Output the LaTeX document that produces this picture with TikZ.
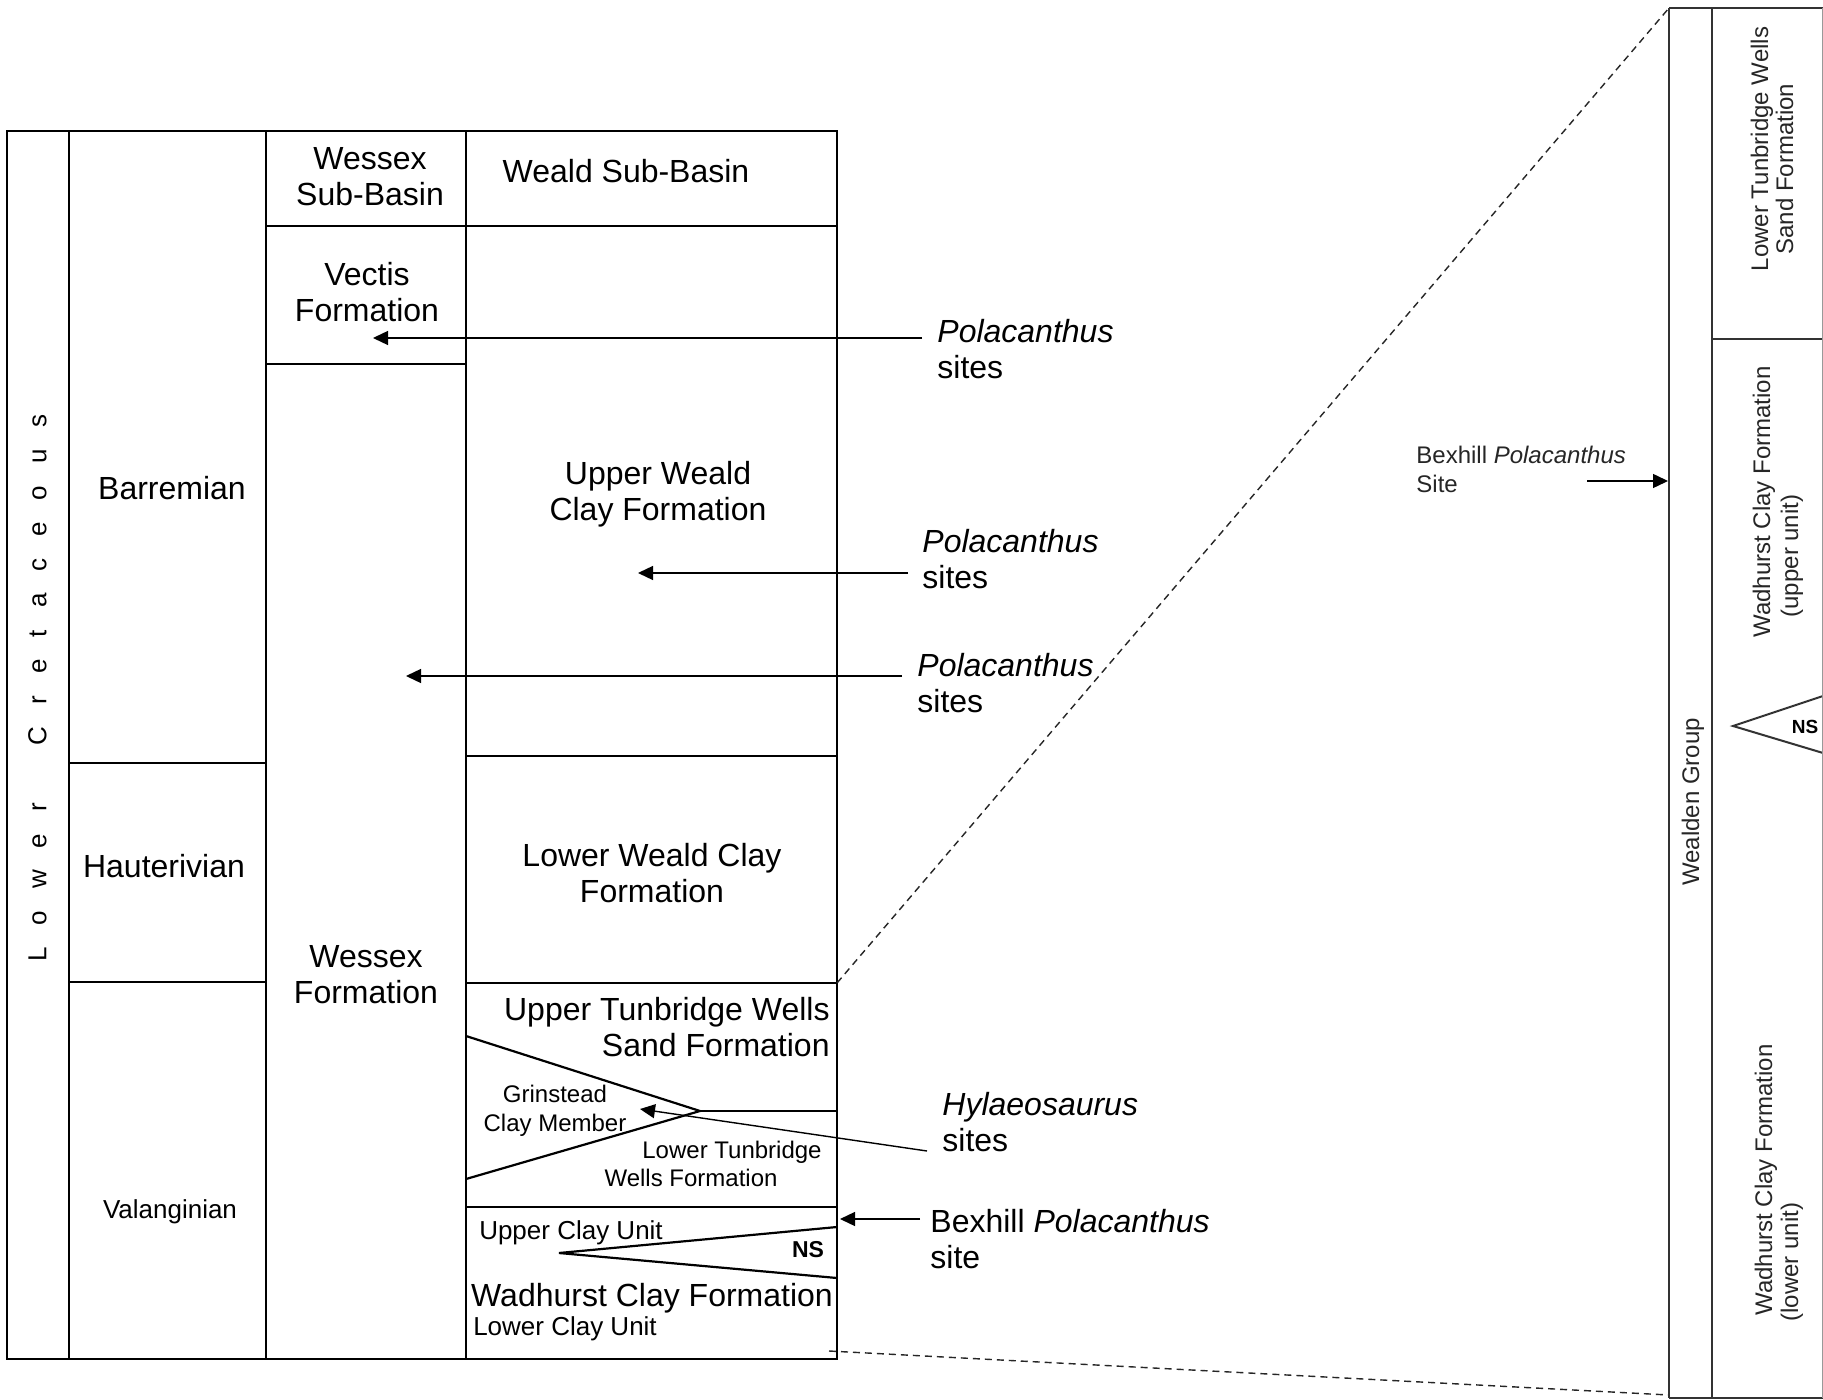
\documentclass[tikz,border=0pt]{standalone}
\usepackage{fontspec}
\setmainfont{Liberation Sans}
\usetikzlibrary{arrows.meta}
\newcommand\lcgap{\hspace{11pt}}
\begin{document}
\begin{tikzpicture}[x=0.5pt,y=-0.5pt,
  frame/.style={line width=1.1pt,black},
  rline/.style={line width=1pt,black!80},
  dashline/.style={line width=0.7pt,black!85,dash pattern=on 3.5pt off 2.5pt},
  ptr/.style={line width=0.7pt,-{Triangle[length=7.5pt,width=7pt]}},
  lbl/.style={inner sep=0pt,font=\fontsize{16}{18}\selectfont,align=center},
  lbll/.style={inner sep=0pt,font=\fontsize{16}{18}\selectfont,align=left,anchor=west},
  med/.style={inner sep=0pt,font=\fontsize{13}{15}\selectfont},
  sml/.style={inner sep=0pt,font=\fontsize{12}{14.5}\selectfont,align=center},
  rtxt/.style={inner sep=0pt,font=\fontsize{12}{14}\selectfont,text=black!85,rotate=90,anchor=base},
  nsbox/.style={inner sep=0pt,font=\fontsize{11.5}{13}\selectfont\bfseries},
]
\useasboundingbox[fill=white] (0,0) rectangle (1823,1400);

% ---- main chart frame
\draw[frame] (7,131) rectangle (837,1359);
\draw[frame] (69,131) -- (69,1359);
\draw[frame] (266,131) -- (266,1359);
\draw[frame] (466,131) -- (466,1359);
\draw[frame] (266,226) -- (837,226);
\draw[frame] (266,364) -- (466,364);
\draw[frame] (69,763) -- (266,763);
\draw[frame] (69,982) -- (266,982);
\draw[frame] (466,756) -- (837,756);
\draw[frame] (466,983) -- (837,983);
\draw[frame] (466,1207) -- (837,1207);

% wedges
\draw[frame] (466,1036) -- (700,1111) -- (466,1179);
\draw[frame] (700,1111) -- (837,1111);
\draw[frame] (837,1227) -- (559,1253) -- (837,1278);

% ---- right panel
\coordinate (zt) at (1669,8);
\coordinate (zb) at (1669,1395);
\coordinate (zs1) at (837,983);
\coordinate (zs2) at (829,1351);
\draw[dashline] (zs1) -- (zt);
\draw[dashline] (zs2) -- (zb);
\draw[rline] (1669,8) -- (1669,1398);
\draw[rline] (1712,8) -- (1712,1398);
\draw[rline] (1669,8) -- (1823,8);
\draw[rline] (1669,1398) -- (1823,1398);
\draw[rline] (1712,339) -- (1823,339);
\draw[rline] (1823,696) -- (1733,726) -- (1823,753);
\draw[line width=0.5pt,black!40] (1822,8) -- (1822,1398);

% ---- texts in chart
\node[inner sep=0pt,font=\fontsize{13}{15}\selectfont,rotate=90] (lc) at (37.5,688)
  {L\lcgap o\lcgap w\lcgap e\lcgap r\hspace{29pt}C\lcgap r\lcgap e\lcgap t\lcgap a\lcgap c\lcgap e\lcgap o\lcgap u\lcgap s};
\node[lbl] (wsb) at (370,177) {Wessex\\Sub-Basin};
\node[lbl] (wdsb) at (626,171) {Weald Sub-Basin};
\node[lbl] (vec) at (367,292) {Vectis\\Formation};
\node[lbl] (bar) at (172,488) {Barremian};
\node[lbl] (hau) at (164,866) {Hauterivian};
\node[med] (val) at (170,1212) {Valanginian};
\node[lbl] (wf) at (366,975) {Wessex\\Formation};
\node[lbl] (uwc) at (658,494) {Upper Weald\\Clay Formation};
\node[lbl] (lwc) at (652,873) {Lower Weald Clay\\Formation};
\node[lbl,align=right,anchor=east] (utw) at (830,1027) {Upper Tunbridge Wells\\Sand Formation};
\node[sml] (gcm) at (555,1111) {Grinstead\\Clay Member};
\node[sml,anchor=base] (ltw1) at (732,1158) {Lower Tunbridge};
\node[sml,anchor=base] (ltw2) at (691,1186) {Wells Formation};
\node[med,anchor=base] (ucu) at (571,1239) {Upper Clay Unit};
\node[nsbox,anchor=base] (ns1) at (808,1257) {NS};
\node[lbl,anchor=base] (wcf) at (652,1306) {Wadhurst Clay Formation};
\node[med,anchor=base] (lcu) at (565,1335) {Lower Clay Unit};

% ---- site labels
\node[lbll] (p1) at (937,349) {\textit{Polacanthus}\\sites};
\node[lbll] (p2) at (922,559) {\textit{Polacanthus}\\sites};
\node[lbll] (p3) at (917,683) {\textit{Polacanthus}\\sites};
\node[lbll] (hy) at (942,1122) {\textit{Hylaeosaurus}\\sites};
\node[lbll] (bx) at (930,1239) {Bexhill \textit{Polacanthus}\\site};
\node[inner sep=0pt,font=\fontsize{12}{14.5}\selectfont,align=left,anchor=west,text=black!85] (bx2) at (1416,469) {Bexhill \textit{Polacanthus}\\Site};

% ---- right panel texts
\node[rtxt] (wg) at (1699,802) {Wealden Group};
\node[rtxt] (r1) at (1768,149) {Lower Tunbridge Wells};
\node[rtxt] (r2) at (1793,169) {Sand Formation};
\node[rtxt] (r3) at (1770,502) {Wadhurst Clay Formation};
\node[rtxt] (r4) at (1798,556) {(upper unit)};
\node[rtxt] (r5) at (1772,1180) {Wadhurst Clay Formation};
\node[rtxt] (r6) at (1798,1262) {(lower unit)};
\node[nsbox,font=\fontsize{9.5}{11}\selectfont\bfseries] (ns2) at (1805,727) {NS};

% ---- arrows
\coordinate (a1s) at (922,338); \coordinate (a1e) at (373,338);
\coordinate (a2s) at (908,573); \coordinate (a2e) at (638,573);
\coordinate (a3s) at (902,676); \coordinate (a3e) at (406,676);
\coordinate (a4s) at (927,1151); \coordinate (a4e) at (640,1109);
\coordinate (a5s) at (920,1219); \coordinate (a5e) at (840,1219);
\coordinate (a6s) at (1587,481); \coordinate (a6e) at (1668,481);
\draw[ptr] (a1s) -- (a1e);
\draw[ptr] (a2s) -- (a2e);
\draw[ptr] (a3s) -- (a3e);
\draw[ptr] (a4s) -- (a4e);
\draw[ptr] (a5s) -- (a5e);
\draw[ptr] (a6s) -- (a6e);
\end{tikzpicture}
\end{document}
